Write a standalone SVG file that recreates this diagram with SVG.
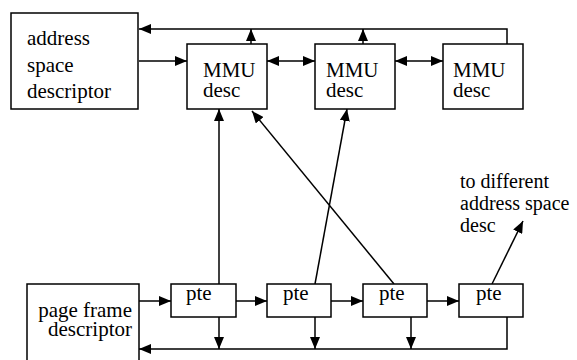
<svg xmlns="http://www.w3.org/2000/svg" width="577" height="360" viewBox="0 0 577 360">
  <style>
    .box { fill: #fff; stroke: #000; stroke-width: 1.5; }
    .lbl { font-family: "Liberation Serif", Tinos, "Times New Roman", serif; font-size: 21px; fill: #000; }
    .note { font-size: 20px; }
    .wire { fill: none; stroke: #000; stroke-width: 1.5; }
  </style>
  <defs>
    <marker id="head" markerUnits="userSpaceOnUse" markerWidth="12" markerHeight="10" refX="12" refY="5" orient="auto-start-reverse">
      <path d="M0,0 L12,5 L0,10 z" fill="#000"/>
    </marker>
  </defs>
  <rect width="577" height="360" fill="#fff"/>

  <!-- connectors -->
  <g id="connectors" class="wire">
    <!-- return bus above the MMU descriptors -->
    <path d="M507,44 V29 H139" marker-end="url(#head)"/>
    <line x1="251" y1="44" x2="251" y2="29" marker-end="url(#head)"/>
    <line x1="363" y1="44" x2="363" y2="29" marker-end="url(#head)"/>
    <!-- MMU chain -->
    <line x1="139" y1="61" x2="187" y2="61" marker-end="url(#head)"/>
    <line x1="267" y1="61" x2="315" y2="61" marker-start="url(#head)" marker-end="url(#head)"/>
    <line x1="395" y1="61" x2="443" y2="61" marker-start="url(#head)" marker-end="url(#head)"/>
    <!-- pte to MMU links -->
    <line x1="219" y1="284" x2="219" y2="109" marker-end="url(#head)"/>
    <line x1="315" y1="284" x2="347" y2="109" marker-end="url(#head)"/>
    <line x1="394" y1="284" x2="252" y2="111" marker-end="url(#head)"/>
    <line x1="492" y1="284" x2="523" y2="221" marker-end="url(#head)"/>
    <!-- pte chain -->
    <line x1="139" y1="301" x2="171" y2="301" marker-end="url(#head)"/>
    <line x1="236" y1="301" x2="267" y2="301" marker-end="url(#head)"/>
    <line x1="331" y1="301" x2="363" y2="301" marker-end="url(#head)"/>
    <line x1="427" y1="301" x2="459" y2="301" marker-end="url(#head)"/>
    <!-- return bus below the ptes -->
    <path d="M507,317 V349 H139" marker-end="url(#head)"/>
    <line x1="219" y1="317" x2="219" y2="349" marker-end="url(#head)"/>
    <line x1="315" y1="317" x2="315" y2="349" marker-end="url(#head)"/>
    <line x1="411" y1="317" x2="411" y2="349" marker-end="url(#head)"/>
  </g>

  <g id="asd">
    <rect class="box" x="11" y="13" width="127" height="96"/>
    <text class="lbl" x="27" y="45">address</text>
    <text class="lbl" x="27" y="72">space</text>
    <text class="lbl" x="27" y="98">descriptor</text>
  </g>

  <g id="mmu1">
    <rect class="box" x="187" y="44" width="80" height="65"/>
    <text class="lbl" x="203" y="77">MMU</text>
    <text class="lbl" x="203" y="97">desc</text>
  </g>
  <g id="mmu2">
    <rect class="box" x="315" y="44" width="80" height="65"/>
    <text class="lbl" x="326" y="77">MMU</text>
    <text class="lbl" x="326" y="97">desc</text>
  </g>
  <g id="mmu3">
    <rect class="box" x="443" y="44" width="80" height="65"/>
    <text class="lbl" x="453" y="77">MMU</text>
    <text class="lbl" x="453" y="97">desc</text>
  </g>

  <!-- page frame descriptor runs off the bottom edge -->
  <g id="pfd">
    <rect class="box" x="27" y="284" width="112" height="90"/>
    <text class="lbl" x="132" y="317" text-anchor="end">page frame</text>
    <text class="lbl" x="132" y="336" text-anchor="end">descriptor</text>
  </g>

  <g id="pte1">
    <rect class="box" x="171" y="284" width="65" height="33"/>
    <text class="lbl" x="186" y="300">pte</text>
  </g>
  <g id="pte2">
    <rect class="box" x="267" y="284" width="64" height="33"/>
    <text class="lbl" x="283" y="300">pte</text>
  </g>
  <g id="pte3">
    <rect class="box" x="363" y="284" width="64" height="33"/>
    <text class="lbl" x="379" y="300">pte</text>
  </g>
  <g id="pte4">
    <rect class="box" x="459" y="284" width="64" height="33"/>
    <text class="lbl" x="476" y="300">pte</text>
  </g>

  <g id="note">
    <text class="lbl note" x="460" y="188">to different</text>
    <text class="lbl note" x="460" y="210">address space</text>
    <text class="lbl note" x="460" y="232">desc</text>
  </g>
</svg>
